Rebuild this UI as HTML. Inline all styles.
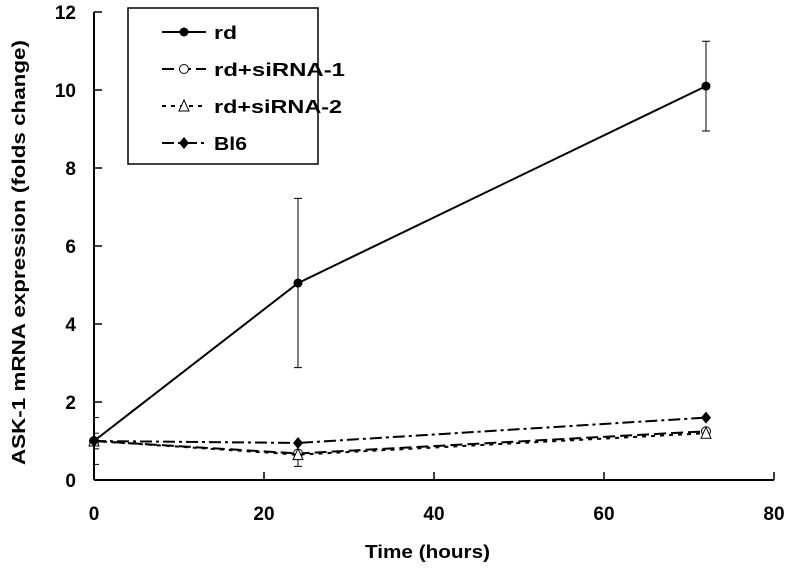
<!DOCTYPE html><html><head><meta charset="utf-8"><style>body{margin:0;background:#fff}svg{display:block;font-family:"Liberation Sans",sans-serif}</style></head><body>
<svg id="c" width="795" height="568"></svg>
<script>
const xs=[0,24,72];
const rd=[1,5.05,10.1];
const rdErr=[0,2.17,1.15];
const si1=[1,0.68,1.25];
const si2=[1,0.65,1.2];
const si2Err=[0,0.3,0];
const bl6=[1,0.95,1.6];
const xTicks=[0,20,40,60,80];
const yTicks=[0,2,4,6,8,10,12];
const X=v=>94+v*8.5, Y=v=>480-v*39;
const svg=document.getElementById('c');const NS='http://www.w3.org/2000/svg';
function el(t,a,p){const e=document.createElementNS(NS,t);for(const k in a)e.setAttribute(k,a[k]);(p||svg).appendChild(e);return e;}
let e;
e=el('line',{x1:94,y1:Y(12),x2:94,y2:480,stroke:'#000','stroke-width':2});

e=el('line',{x1:94,y1:480,x2:X(80),y2:480,stroke:'#000','stroke-width':2});

yTicks.forEach(v=>{el('line',{x1:94,x2:102,y1:Y(v),y2:Y(v),stroke:'#000','stroke-width':1.5});
e=el('text',{x:76,y:Y(v)+7,'text-anchor':'end','font-size':19,'font-weight':'bold'});e.textContent=v;
});
for(let v=0.4;v<2;v+=0.4){el('line',{x1:94,x2:99,y1:Y(v),y2:Y(v),stroke:'#000'});}
xTicks.forEach(v=>{el('line',{x1:X(v),x2:X(v),y1:472,y2:480,stroke:'#000','stroke-width':1.5});
e=el('text',{x:X(v),y:520,'text-anchor':'middle','font-size':19,'font-weight':'bold'});e.textContent=v;
});
e=el('text',{x:365,y:558,'font-size':18,'font-weight':'bold',textLength:125,lengthAdjust:'spacingAndGlyphs'});e.textContent='Time (hours)';

e=el('text',{x:0,y:0,'font-size':18,'font-weight':'bold',textLength:425,lengthAdjust:'spacingAndGlyphs',transform:'translate(25 465) rotate(-90)'});e.textContent='ASK-1 mRNA expression (folds change)';

function err(vals,errs,name){vals.forEach((v,i)=>{if(!errs[i])return;const x=X(xs[i]);
e=el('path',{d:`M${x},${Y(v-errs[i])}V${Y(v+errs[i])}M${x-4},${Y(v-errs[i])}h8M${x-4},${Y(v+errs[i])}h8`,stroke:'#000',fill:'none'});
});}
err(rd,rdErr,'rd-error-bar');err(si2,si2Err,'sirna2-error-bar');
function marker(x,y,m){if(m=='dot')return el('circle',{cx:x,cy:y,r:4.5,fill:'#000'});
if(m=='circ')return el('circle',{cx:x,cy:y,r:4.5,fill:'#fff',stroke:'#000'});
if(m=='tri')return el('path',{d:`M${x},${y-6}L${x+5},${y+5}H${x-5}Z`,fill:'#fff',stroke:'#000'});
return el('path',{d:`M${x},${y-6}L${x+5},${y}L${x},${y+6}L${x-5},${y}Z`,fill:'#000'});}
const series=[[rd,'dot','','rd'],[si1,'circ','12 5','sirna1'],[si2,'tri','4 5','sirna2'],[bl6,'dia','12 4 3 4','bl6']];
series.forEach(([vals,m,da,n])=>{
e=el('polyline',{points:vals.map((v,i)=>X(xs[i])+','+Y(v)).join(' '),fill:'none',stroke:'#000','stroke-width':2,'stroke-dasharray':da});

vals.forEach((v,i)=>{e=marker(X(xs[i]),Y(v),m);});});
e=el('rect',{x:128,y:8,width:190,height:156,fill:'#fff',stroke:'#000','stroke-width':1.5});

const labels=['rd','rd+siRNA-1','rd+siRNA-2','Bl6'];
const lens=[23,131,128,33];
series.forEach(([v,m,da,n],i)=>{const y=32+i*37;
el('line',{x1:162,x2:206,y1:y,y2:y,stroke:'#000','stroke-width':2,'stroke-dasharray':da});
marker(184,y,m);
e=el('text',{x:214,y:y+7,'font-size':18,'font-weight':'bold',textLength:lens[i],lengthAdjust:'spacingAndGlyphs'});e.textContent=labels[i];
});
</script></body></html>
